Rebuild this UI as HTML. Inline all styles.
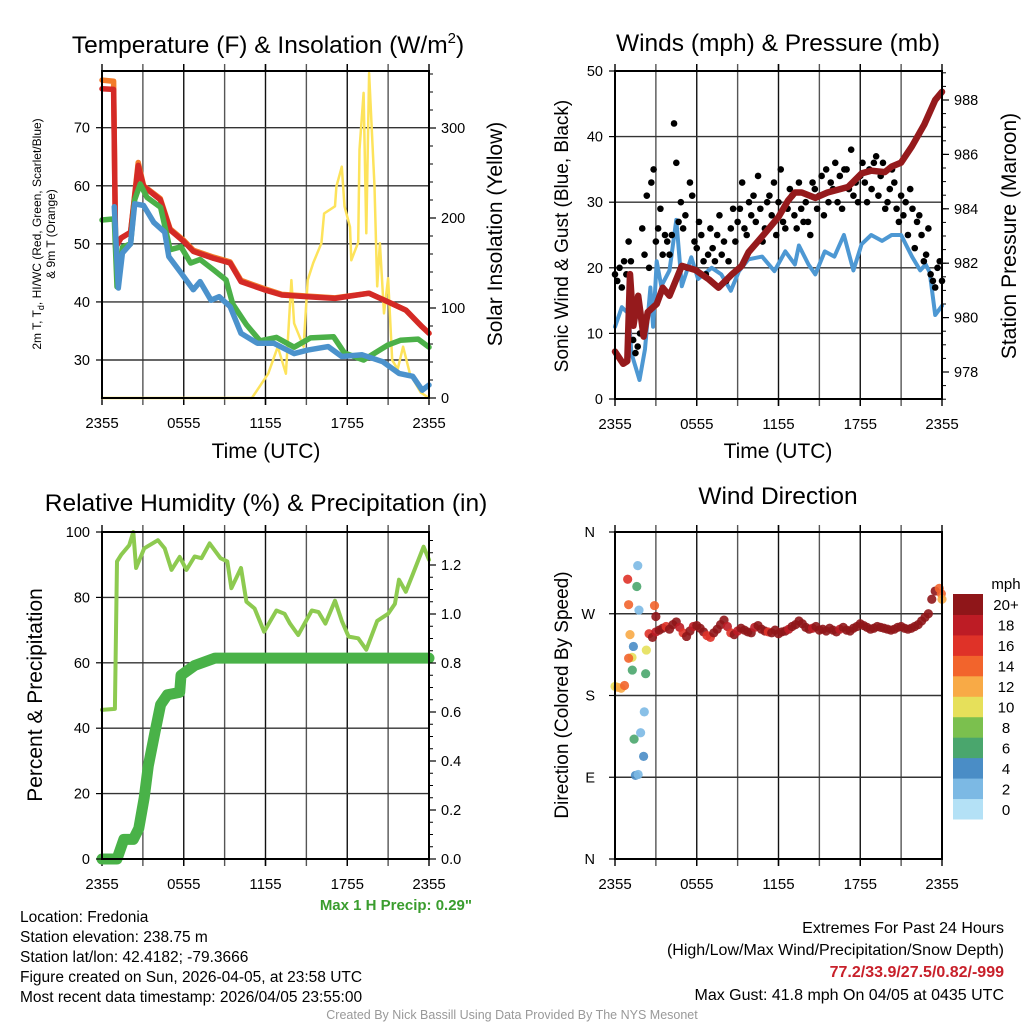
<!DOCTYPE html>
<html><head><meta charset="utf-8"><title>Fredonia Mesonet Meteogram</title>
<style>
html,body{margin:0;padding:0;background:#fff;}
svg{display:block;font-family:"Liberation Sans",sans-serif;}
</style></head>
<body>
<svg id="chart" xmlns="http://www.w3.org/2000/svg" width="1024" height="1024" viewBox="0 0 1024 1024">
<rect x="0" y="0" width="1024" height="1024" fill="#fff"/>
<!-- Titles -->
<text x="268" y="53" font-size="24.5" text-anchor="middle">Temperature (F) &amp; Insolation (W/m<tspan font-size="15" dy="-10">2</tspan><tspan dy="10">)</tspan></text>
<text x="778" y="51" font-size="24.5" text-anchor="middle">Winds (mph) &amp; Pressure (mb)</text>
<text x="266" y="511" font-size="24.5" text-anchor="middle">Relative Humidity (%) &amp; Precipitation (in)</text>
<text x="778" y="504" font-size="24.5" text-anchor="middle">Wind Direction</text>
<!-- axis titles -->
<text x="266" y="458" font-size="21" text-anchor="middle">Time (UTC)</text>
<text x="778" y="458" font-size="21" text-anchor="middle">Time (UTC)</text>
<text transform="translate(41,234) rotate(-90)" font-size="12" text-anchor="middle">2m T, T<tspan font-size="9" dy="3">d</tspan><tspan dy="-3">, HI/WC (Red, Green, Scarlet/Blue)</tspan></text>
<text transform="translate(55,234) rotate(-90)" font-size="12" text-anchor="middle">&amp; 9m T (Orange)</text>
<text transform="translate(502,234) rotate(-90)" font-size="21" text-anchor="middle">Solar Insolation (Yellow)</text>
<text transform="translate(568,236) rotate(-90)" font-size="19" text-anchor="middle">Sonic Wind &amp; Gust (Blue, Black)</text>
<text transform="translate(1016,236) rotate(-90)" font-size="21" text-anchor="middle">Station Pressure (Maroon)</text>
<text transform="translate(42,695) rotate(-90)" font-size="21" text-anchor="middle">Percent &amp; Precipitation</text>
<text transform="translate(568,695) rotate(-90)" font-size="19" text-anchor="middle">Direction (Colored By Speed)</text>
<g id="layer"></g>
<!-- colorbar label -->
<text x="1006" y="589" font-size="15" text-anchor="middle">mph</text>
<!-- footer -->
<text x="472" y="910" font-size="15" font-weight="bold" fill="#3a9d2e" text-anchor="end">Max 1 H Precip: 0.29"</text>
<g font-size="15.5">
<text x="20" y="922">Location: Fredonia</text>
<text x="20" y="942">Station elevation: 238.75 m</text>
<text x="20" y="962">Station lat/lon: 42.4182; -79.3666</text>
<text x="20" y="982">Figure created on Sun, 2026-04-05, at 23:58 UTC</text>
<text x="20" y="1002">Most recent data timestamp: 2026/04/05 23:55:00</text>
</g>
<g font-size="16" text-anchor="end">
<text x="1004" y="933">Extremes For Past 24 Hours</text>
<text x="1004" y="955">(High/Low/Max Wind/Precipitation/Snow Depth)</text>
<text x="1004" y="977" fill="#c8202a" font-weight="bold">77.2/33.9/27.5/0.82/-999</text>
<text x="1004" y="1000">Max Gust: 41.8 mph On 04/05 at 0435 UTC</text>
</g>
<text x="512" y="1019" font-size="12.5" fill="#999" text-anchor="middle">Created By Nick Bassill Using Data Provided By The NYS Mesonet</text>
</svg>
<script>
// ---------- DATA ----------
const timeTickLabels = ["2355","0555","1155","1755","2355"];
const timeTickHours = [0,6,12,18,24];
// Panel 1
const tempTicks = [30,40,50,60,70];
const insolTicks = [0,100,200,300];
const redTimes = [0,0.85,1.0,1.4,2.1,2.66,3.05,4.28,5.0,6.0,6.7,8.2,9.4,10.2,11.9,13.2,15.1,17.1,19.6,21,22.3,23.5,24];
const redVals  = [76.7,76.6,49.4,51,52,63.5,59.9,57.6,52.4,50.4,48.7,47.5,46.7,43.5,42.1,41.2,40.9,40.6,41.5,40,38.6,35.7,34.6];
const orangeVals=[78.2,78.0,49.6,51,52,64,60,57.8,52.6,50.6,48.9,47.7,46.9,43.7,42.3,41.3,41.0,40.7,41.5,40,38.6,35.7,34.6];
const greenTimes=[0,0.9,1.1,1.5,2.1,2.4,2.8,3.3,4.3,5.0,5.8,6.5,7.2,8.2,9.1,9.6,10.6,11.6,12.8,14.1,15.3,17,17.8,19.2,21,21.9,23.2,24];
const greenVals =[54.1,54.3,42.6,49.4,50,57.6,60.3,58,56.3,49,49.5,46.7,47.3,45.5,43.8,39.6,36.1,33.3,33.9,32.2,33.8,34,31.2,30,32.6,33.4,33.6,32.2];
const blueTimes=[0.9,1.2,1.5,2.1,2.4,3.05,3.8,4.6,4.9,5.8,6.7,7.2,8,8.6,9.4,10.2,11.4,12.6,14.1,15.1,16.6,17.6,19.1,20.6,21.8,22.8,23.5,24];
const blueVals =[56.4,42.4,48.4,50,56.9,56.6,53.7,52,47.8,45,42.1,43.5,40.3,40.9,39.2,34.6,32.9,32.9,31.1,31.7,32.3,30.6,30.9,29.7,27.7,27.2,24.8,25.7];
const solarTimes=[0,11,12.2,12.9,13.5,13.9,14.1,14.8,15.1,15.5,16.1,16.3,17.1,17.2,17.6,17.8,18.2,18.3,18.8,18.9,19.2,19.4,19.6,20,20.2,20.4,20.7,21,21.3,21.7,22.1,22.6,23.4,24];
const solarVals =[0,0,27,57,27,131,83,57,131,150,172,205,213,235,257,213,190,153,173,276,339,183,361,235,124,172,94,133,42,32,57,27,6,0];
// Panel 2
const windTicks=[0,10,20,30,40,50];
const presTicks=[978,980,982,984,986,988];
const sonicTimes=[0,0.5,1,1.2,1.8,2.2,2.6,2.8,3.06,3.4,4,4.5,4.9,5.6,6.1,7.1,7.8,8.5,9.1,9.8,10.8,11.7,12.5,13.2,13.5,14.2,14.7,15.4,16.1,16.8,17.5,18.1,18.8,19.6,20.3,21,21.8,22.4,22.8,23.1,23.5,24];
const sonicVals =[11,14,13,7,2.9,7.6,17,11,21,17.2,19.6,27.3,17.2,21.6,18.3,20,19,16.5,19.5,21.3,21.7,19.5,22.5,20.5,23.4,20.5,19,22.5,21.7,25,19.6,23.6,25,24.1,25,25,21.7,19.6,20.5,19.3,12.8,14.2];
const presTimes=[0,0.6,0.9,1.1,1.35,1.7,2.1,2.4,3.06,3.5,4,4.9,5.9,6.9,7.6,8.6,9.3,9.8,11,12,12.7,13.2,13.7,14.7,15.6,17.1,18.1,18.8,19.8,20.3,21,21.8,22.7,23.5,24];
const presVals =[978.75,978.3,978.4,981.6,979.7,980.8,979.3,980.2,980.5,981.1,980.8,981.9,981.75,981.4,981.1,981.6,981.9,982.4,983.1,983.7,984.3,984.6,984.6,984.4,984.6,984.8,985.3,985.4,985.35,985.55,985.7,986.3,987.1,988.0,988.3];
const gustVals=[19,18,20,17,21,19, 24,21,9,7,8,10, 26,22,31,20,33,35, 24,26,29,22,25,24, 22,25,42,36,27,30,
 26,28,20,33,31,24, 23,27,25,21,19,22, 26,23,21,25,28,22, 24,18,21,26,29,24, 27,29,33,26,25,30,
 28,31,27,34,29,24, 26,30,31,28,33,25, 30,35,27,26,29,32, 31,28,26,33,29,27, 30,27,25,33,32,29,
 31,34,28,35,30,33, 32,36,30,34,29,35, 35,32,38,31,33,30, 34,36,33,30,35,32, 36,37,31,34,36,29,
 30,32,35,33,29,27, 31,28,30,25,32,29, 23,27,28,25,21,22, 26,19,18,17,20,21, 18];
// Panel 3
const rhTicks=[0,20,40,60,80,100];
const precipTicks=[0.0,0.2,0.4,0.6,0.8,1.0,1.2];
const rhTimes=[0,0.95,1.1,1.4,2,2.3,2.5,3.1,3.3,4.1,4.6,5.1,5.7,6.2,6.8,7.3,7.9,8.7,9.2,9.5,10.2,10.6,11.2,11.9,12.8,13.4,13.8,14.4,15.4,15.9,16.4,17.1,17.6,18.1,18.8,19.4,20.2,21,21.5,21.8,22.3,22.8,23.6,24];
const rhVals =[45.6,45.9,91,93,96,100,89,95,95.5,97.5,95,88.4,92.4,88.4,92.5,92,96.5,92,91,82.8,89,78.7,76.6,69.5,76,75,72,68.5,76,75.5,72,79,72.8,68,67.5,64,72.8,75,78,85.4,81.7,87,95.5,91.5];
const precipTimes=[0,1.1,1.6,2.3,2.7,3.1,3.4,3.9,4.3,4.8,5.7,5.8,6.8,8.3,24];
const precipVals =[0,0,0.08,0.08,0.125,0.25,0.38,0.52,0.63,0.67,0.68,0.75,0.79,0.82,0.82];
// Panel 4
const dirTickLabels=["N","E","S","W","N"];
const dirTickVals=[0,90,180,270,360];
const speedBinLabels=["0","2","4","6","8","10","12","14","16","18","20+"];
const speedBinColors=["#b4e1f6","#7cb9e4","#4a8dc6","#4aa66d","#7bc04e","#e6e05a","#f8aa46","#f2642c","#df3228","#bd1c25","#8f1619"];
const earlyTimes=[0.0,0.2,0.45,0.7,1.67,0.93,1.6,1.0,1.76,2.9,3.0,1.1,1.35,1.25,1.0,2.3,1.27,2.25,2.15,1.88,1.4,2.1,1.5,1.7];
const earlyDirs =[190,189,188,191,323,308,300,280,274,279,267,247,234,222,221,230,208,204,162,139,132,113,92,93];
const earlySpds =[11,13,12,14,2,17,6,15,2,15,20,12,4,10,14,10,6,6,2,2,6,4,4,2];
const bandStart=2.5, bandStep=0.25;
const bandDirs=[248,244,250,252,254,256,253,258,261,255,249,245,251,256,257,254,250,246,244,249,253,258,263,256,249,247,251,254,252,250,
249,255,257,253,251,250,249,252,248,250,251,253,256,258,262,259,255,253,254,256,252,253,251,254,252,250,253,255,252,251,
254,256,259,257,255,253,254,256,255,254,253,252,253,255,256,254,253,254,256,258,262,266,270,286,295];
const bandSpds=[16,20,18,20,20,17,20,20,20,18,16,20,20,18,20,20,20,17,16,20,20,20,20,18,16,20,18,20,20,20,
20,18,20,20,20,16,20,20,20,20,20,18,20,20,20,20,20,20,18,20,20,20,20,20,20,20,18,20,20,20,
20,20,20,20,20,20,20,20,20,20,20,20,20,20,20,20,20,20,20,20,20,20,20,20,20];
const lateTimes=[23.8,23.95,24.0];
const lateDirs=[298,292,286];
const lateSpds=[14,14,12];

// ---------- RENDER ----------
const NS="http://www.w3.org/2000/svg";
const layer=document.getElementById('layer');
function mk(tag,attrs,parent){const e=document.createElementNS(NS,tag);for(const k in attrs)e.setAttribute(k,attrs[k]);(parent||layer).appendChild(e);return e;}
function lin(d0,d1,r0,r1){return v=>r0+(v-d0)*(r1-r0)/(d1-d0);}
const P={
 t:{x0:102,x1:429,y0:71,y1:398},
 w:{x0:615,x1:942,y0:71,y1:399},
 h:{x0:102,x1:429,y0:532,y1:859},
 d:{x0:615,x1:942,y0:532,y1:859}
};
function frame(p,name,hGrid){
 const g=mk('g',{});
 
 
 const xs=lin(0,24,p.x0,p.x1);
 for(let h=3;h<24;h+=3){const l=mk('line',{x1:xs(h),x2:xs(h),y1:p.y0-7,y2:p.y1+7,stroke:(h%6==0)?'#111':'#555','stroke-width':1.4},g);
  
  }
 for(const y of hGrid){const l=mk('line',{x1:p.x0,x2:p.x1,y1:y,y2:y,stroke:'#333','stroke-width':1.4},g);
  
  }
 timeTickHours.forEach((h,i)=>{
  const x=xs(h);
  mk('line',{x1:x,x2:x,y1:p.y1,y2:p.y1+7,stroke:'#000','stroke-width':1.4},g);
  mk('line',{x1:x,x2:x,y1:p.y0,y2:p.y0-7,stroke:'#000','stroke-width':1.4},g);
  const t=mk('text',{x:x,y:p.y1+30,'font-size':15,'text-anchor':'middle'},g);t.textContent=timeTickLabels[i];
  
  
 });
 return g;
}
function border(p,name){const r=mk('rect',{x:p.x0,y:p.y0,width:p.x1-p.x0,height:p.y1-p.y0,fill:'none',stroke:'#000','stroke-width':2});
 
 }
function leftTicks(p,ticks,ys,name,fmt){ticks.forEach(v=>{const y=ys(v);
 mk('line',{x1:p.x0-6,x2:p.x0,y1:y,y2:y,stroke:'#000','stroke-width':1.2});
 const t=mk('text',{x:p.x0-12,y:y+5,'font-size':14.5,'text-anchor':'end'});t.textContent=fmt?fmt(v):v;
 
 });}
function rightTicks(p,ticks,ys,name,fmt,minor){
 if(minor){for(let v=minor[0];v<=minor[1]+1e-9;v+=minor[2]){const y=ys(v);if(y<p.y0-1||y>p.y1+1)continue;mk('line',{x1:p.x1,x2:p.x1+4,y1:y,y2:y,stroke:'#000','stroke-width':1});}}
 ticks.forEach(v=>{const y=ys(v);
 mk('line',{x1:p.x1,x2:p.x1+7,y1:y,y2:y,stroke:'#000','stroke-width':1.2});
 const t=mk('text',{x:p.x1+12,y:y+5,'font-size':14.5,'text-anchor':'start'});t.textContent=fmt?fmt(v):v;
 
 });}
function path(ts,vs,xs,ys,color,w,name){let d='';ts.forEach((t,i)=>{d+=(i?'L':'M')+xs(t).toFixed(1)+','+ys(vs[i]).toFixed(1);});
 const e=mk('path',{d:d,fill:'none',stroke:color,'stroke-width':w,'stroke-linejoin':'round','stroke-linecap':'round'});
 
 return e;}

// Panel 1
(function(){const p=P.t;const xs=lin(0,24,p.x0,p.x1);const ys=lin(30,70,360,127.7);const yr=lin(0,300,398,128);
 frame(p,'temperature',tempTicks.map(ys));
 path(solarTimes,solarVals,xs,yr,'#fde35b',2.5,'solar-insolation-line');
 path(redTimes,orangeVals,xs,ys,'#f37c2a',5.5,'temp-9m-line');
 path(redTimes,redVals,xs,ys,'#d42a26',5.5,'temp-2m-line');
 path(greenTimes,greenVals,xs,ys,'#4bb048',5.5,'dewpoint-line');
 path(blueTimes,blueVals,xs,ys,'#4b92cc',5.5,'heat-index-windchill-line');
 border(p,'temperature');leftTicks(p,tempTicks,ys,'temperature');rightTicks(p,insolTicks,yr,'insolation',null,[0,360,20]);
})();
// Panel 2
(function(){const p=P.w;const xs=lin(0,24,p.x0,p.x1);const ys=lin(0,50,399,71);const yp=lin(978,988,372,100);
 frame(p,'winds',[10,20,30,40].map(ys));
 path(sonicTimes,sonicVals,xs,ys,'#4d98d3',4,'sonic-wind-line');
 gustVals.forEach((v,i)=>{const c=mk('circle',{cx:xs(i/6),cy:ys(v),r:3.3,fill:'#000'});
  
  });
 path(presTimes,presVals,xs,yp,'#951a1c',6.5,'pressure-line');
 border(p,'winds');leftTicks(p,windTicks,ys,'wind');rightTicks(p,presTicks,yp,'pressure',null,[977,989,0.5]);
})();
// Panel 3
(function(){const p=P.h;const xs=lin(0,24,p.x0,p.x1);const ys=lin(0,100,859,532);const yr=lin(0,1.2,859,565);
 frame(p,'humidity',[20,40,60,80].map(ys));
 path(rhTimes,rhVals,xs,ys,'#8dca50',4,'relative-humidity-line');
 path(precipTimes,precipVals,xs,yr,'#49b248',11,'precipitation-line');
 border(p,'humidity');leftTicks(p,rhTicks,ys,'humidity');rightTicks(p,precipTicks,yr,'precip',v=>v.toFixed(1),[0,1.3,0.05]);
})();
// Panel 4
(function(){const p=P.d;const xs=lin(0,24,p.x0,p.x1);const ys=lin(0,360,859,532);
 frame(p,'direction',[90,180,270].map(ys));
 const col=s=>speedBinColors[Math.min(10,Math.floor(s/2))];
 function dot(t,d,s){const c=mk('circle',{cx:xs(t),cy:ys(d),r:4.6,fill:col(s),'fill-opacity':0.9});
  
  }
 earlyTimes.forEach((t,i)=>dot(t,earlyDirs[i],earlySpds[i]));
 bandDirs.forEach((d,i)=>dot(bandStart+i*bandStep,d,bandSpds[i]));
 lateTimes.forEach((t,i)=>dot(t,lateDirs[i],lateSpds[i]));
 border(p,'direction');
 dirTickVals.forEach((v,i)=>{const y=ys(v);mk('line',{x1:p.x0-6,x2:p.x0,y1:y,y2:y,stroke:'#000','stroke-width':1.2});
  const t=mk('text',{x:p.x0-20,y:y+5,'font-size':14.5,'text-anchor':'end'});t.textContent=dirTickLabels[i];
  
  });
 // colorbar
 const cb0=594,cbH=(819-594)/11;
 speedBinColors.forEach((c,i)=>{const y=cb0+(10-i)*cbH;
  const r=mk('rect',{x:953,y:y,width:30,height:cbH+0.5,fill:c});
  
  
  const t=mk('text',{x:1006,y:y+cbH/2+6,'font-size':15,'text-anchor':'middle'});t.textContent=speedBinLabels[i];
  
  });
})();
</script>
</body></html>
